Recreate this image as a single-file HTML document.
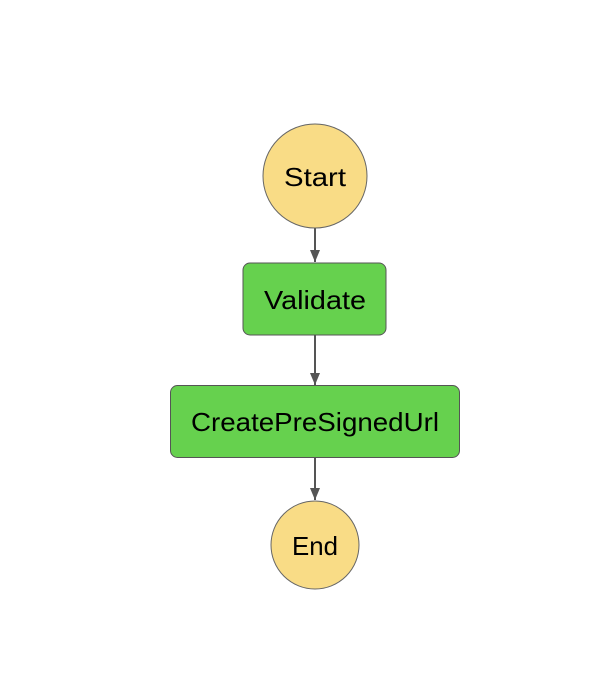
<!DOCTYPE html>
<html><head><style>html,body{margin:0;padding:0;background:#fff;width:602px;height:676px;overflow:hidden}</style></head>
<body>
<svg width="602" height="676" xmlns="http://www.w3.org/2000/svg" font-family="'Liberation Sans', sans-serif" font-size="26">
<defs><marker id="a" markerWidth="12" markerHeight="10" refX="12" refY="5" orient="auto" markerUnits="userSpaceOnUse"><path d="M0,0 L12,5 L0,10 Z" fill="#555"/></marker></defs>
<g stroke="#555" stroke-width="2" fill="none">
<line x1="315" y1="228" x2="315" y2="262" marker-end="url(#a)"/>
<line x1="315" y1="335" x2="315" y2="385" marker-end="url(#a)"/>
<line x1="315" y1="458" x2="315" y2="500" marker-end="url(#a)"/>
</g>
<circle cx="315" cy="176" r="52" fill="#f9dc86" stroke="#666" stroke-width="1"/>
<rect x="243" y="263" width="143" height="72" rx="7" fill="#66d14e" stroke="#555" stroke-width="1"/>
<rect x="170.5" y="385.5" width="289" height="72" rx="7" fill="#66d14e" stroke="#555" stroke-width="1"/>
<circle cx="315" cy="545" r="44" fill="#f9dc86" stroke="#666" stroke-width="1"/>
<g text-anchor="middle" fill="#000" lengthAdjust="spacingAndGlyphs">
<text x="315" y="186" textLength="62" lengthAdjust="spacingAndGlyphs">Start</text>
<text x="315" y="309" textLength="102" lengthAdjust="spacingAndGlyphs">Validate</text>
<text x="315" y="431" textLength="248" lengthAdjust="spacingAndGlyphs">CreatePreSignedUrl</text>
<text x="315" y="555" textLength="46" lengthAdjust="spacingAndGlyphs">End</text>
</g>
</svg>
</body></html>
